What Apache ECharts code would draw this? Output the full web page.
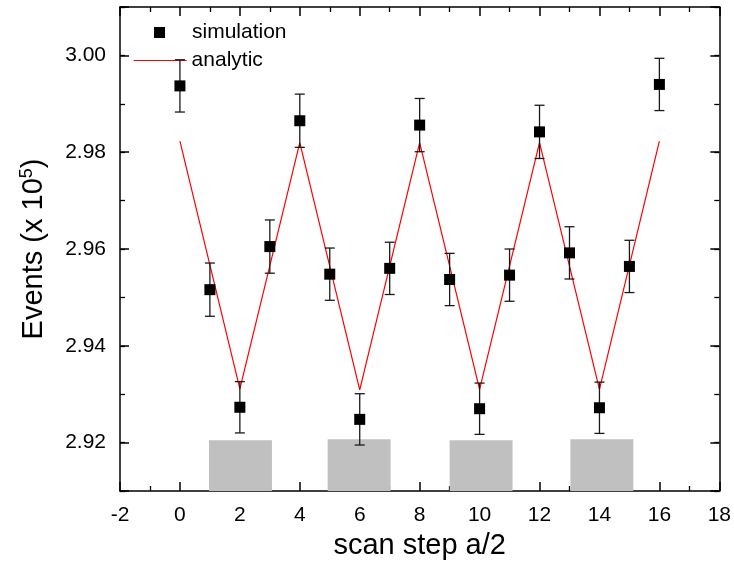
<!DOCTYPE html>
<html>
<head>
<meta charset="utf-8">
<script src="https://cdn.jsdelivr.net/npm/echarts@6/dist/echarts.min.js"></script>
<style>
html,body{margin:0;padding:0;background:#fff;}
#chart{width:734px;height:565px;}
</style>
</head>
<body>
<div id="chart"></div>
<script>
// ---- data ----
const simX = [0,1,2,3,4,5,6,7,8,9,10,11,12,13,14,15,16];
const simY = [2.9937,2.9516,2.9273,2.9605,2.9865,2.9548,2.9248,2.9560,2.9856,2.9537,2.9270,2.9546,2.9842,2.9592,2.9272,2.9564,2.9940];
const simErr = [0.0054,0.0055,0.0053,0.0055,0.0055,0.0054,0.0053,0.0054,0.0055,0.0054,0.0053,0.0054,0.0055,0.0054,0.0053,0.0054,0.0054];
const anaX = [0,2,4,6,8,10,12,14,16];
const anaY = [2.9823,2.9311,2.9820,2.9309,2.9820,2.9310,2.9820,2.9310,2.9823];
const barX0 = [0.97,4.93,9.0,13.03];
const barX1 = [3.07,7.03,11.1,15.13];
const barTop = [2.9205,2.9207,2.9205,2.9207];
const barBottom = 2.91;
const xRange = {min:-2,max:18,interval:2};
const yRange = {min:2.91,max:3.01,splitNumber:5,minorInterval:0.01};

// ---- build ----
const FONT = 'Liberation Sans, Arial, sans-serif';
const simData = simX.map((x,i)=>[x,simY[i]]);
const errData = simX.map((x,i)=>[x,simY[i]-simErr[i],simY[i]+simErr[i]]);
const anaData = anaX.map((x,i)=>[x,anaY[i]]);
const rectData = barX0.map((x,i)=>[x,barX1[i],barTop[i],barBottom]);

const lineSt = {color:'#000',width:1.5};
const tickSt = {color:'#000',width:1.5};

function xAx(pos, labels){
  const a = {
    type:'value',position:pos,min:xRange.min,max:xRange.max,interval:xRange.interval,
    axisLine:{show:true,onZero:false,lineStyle:lineSt},
    axisTick:{show:true,inside:true,length:9,lineStyle:tickSt},
    minorTick:{show:true,splitNumber:2,length:5,lineStyle:{color:'#000',width:1.3}},
    splitLine:{show:false},minorSplitLine:{show:false},
    axisLabel:{show:labels,color:'#000',fontFamily:FONT,fontSize:21,margin:14}
  };
  if(labels){
    a.name='scan step a/2';a.nameLocation='middle';a.nameGap=40;
    a.nameTextStyle={color:'#000',fontFamily:FONT,fontSize:29};
  }
  return a;
}
function yMajor(pos, labels){
  const a = {
    type:'value',position:pos,min:yRange.min,max:yRange.max,splitNumber:yRange.splitNumber,
    axisLine:{show:true,onZero:false,lineStyle:lineSt},
    axisTick:{show:true,inside:true,length:9,lineStyle:tickSt},
    splitLine:{show:false},
    axisLabel:{show:labels,color:'#000',fontFamily:FONT,fontSize:21,margin:14,
      formatter:v=>{const r=Math.round(v*100);return (r%2===0)?v.toFixed(2):'';}}
  };
  if(labels){
    a.name='Events (x 10{sup|5})';a.nameLocation='middle';a.nameGap=70;a.nameRotate=90;
    a.nameTextStyle={color:'#000',fontFamily:FONT,fontSize:29,
      rich:{sup:{fontSize:18,fontFamily:FONT,color:'#000',verticalAlign:'top',padding:[0,0,14,0]}}};
  }
  return a;
}
function yMinor(pos){
  return {
    type:'value',position:pos,min:yRange.min,max:yRange.max,interval:yRange.minorInterval,
    axisLine:{show:false,onZero:false},
    axisTick:{show:true,inside:true,length:5,lineStyle:{color:'#000',width:1.3}},
    splitLine:{show:false},axisLabel:{show:false}
  };
}

const chart = echarts.init(document.getElementById('chart'),null,{renderer:'canvas'});
chart.setOption({
  animation:false,
  backgroundColor:'#fff',
  grid:{left:120,right:12,top:7,bottom:73,containLabel:false},
  xAxis:[xAx('bottom',true),xAx('top',false)],
  yAxis:[yMajor('left',true),yMajor('right',false),yMinor('left'),yMinor('right')],
  legend:[
    {
      data:[{name:'simulation',icon:'rect'}],
      left:149,top:17,itemWidth:11,itemHeight:11,
      itemStyle:{color:'#000',opacity:1},
      textStyle:{color:'#000',fontFamily:FONT,fontSize:21,padding:[0,0,0,22]},
      selectedMode:false
    },
    {
      data:['analytic'],
      left:128,top:45,itemWidth:53,itemHeight:14,
      itemStyle:{opacity:0},
      lineStyle:{color:'#ff0000',width:1.2},
      textStyle:{color:'#000',fontFamily:FONT,fontSize:21},
      selectedMode:false
    }
  ],
  series:[
    {
      name:'bars',type:'custom',xAxisIndex:0,yAxisIndex:0,z:1,
      data:rectData,
      encode:{x:[0,1],y:[2,3]},
      renderItem:(params,api)=>{
        const p0 = api.coord([api.value(0),api.value(2)]);
        const p1 = api.coord([api.value(1),api.value(3)]);
        return {type:'rect',shape:{x:p0[0],y:p0[1],width:p1[0]-p0[0],height:p1[1]-p0[1]},
          style:{fill:'#c0c0c0'}};
      }
    },
    {
      name:'analytic',type:'line',data:anaData,symbol:'none',z:3,
      lineStyle:{color:'#ff0000',width:1.2},itemStyle:{color:'#ff0000'}
    },
    {
      name:'err',type:'custom',z:4,data:errData,
      encode:{x:0,y:[1,2]},
      renderItem:(params,api)=>{
        const x = api.value(0);
        const lo = api.coord([x,api.value(1)]);
        const hi = api.coord([x,api.value(2)]);
        const w = 5;
        const st = {stroke:'#1a1a1a',lineWidth:1.3};
        return {type:'group',children:[
          {type:'line',shape:{x1:lo[0],y1:lo[1],x2:hi[0],y2:hi[1]},style:st},
          {type:'line',shape:{x1:lo[0]-w,y1:lo[1],x2:lo[0]+w,y2:lo[1]},style:st},
          {type:'line',shape:{x1:hi[0]-w,y1:hi[1],x2:hi[0]+w,y2:hi[1]},style:st}
        ]};
      }
    },
    {
      name:'simulation',type:'scatter',data:simData,symbol:'rect',symbolSize:11,z:5,
      itemStyle:{color:'#000',opacity:1}
    }
  ]
});
</script>
</body>
</html>
